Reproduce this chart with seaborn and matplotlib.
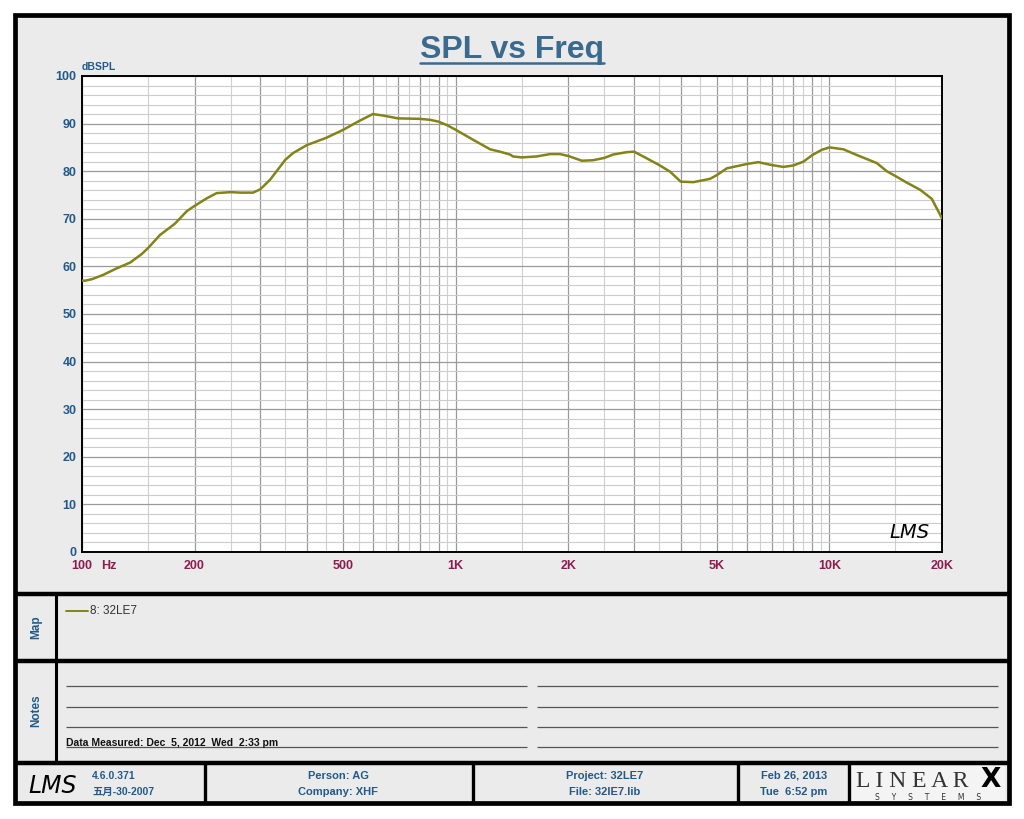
import numpy as np
import pandas as pd
import matplotlib
matplotlib.use("Agg")
import matplotlib.pyplot as plt
import seaborn as sns
from matplotlib.lines import Line2D
from matplotlib.patches import Rectangle
from matplotlib.ticker import FixedLocator, FixedFormatter, NullFormatter

# ---------------- data ----------------
freq_hz = [100, 101.9, 106.2, 113.8, 123.9, 134.5, 144.5, 150, 161.7, 177.4, 190.7,
           200, 215.6, 229.3, 250, 264.8, 286.9, 300, 318.5, 350, 366.9, 400, 450,
           500, 550, 600, 639, 700, 800, 853.6, 900, 946, 1000, 1113, 1236, 1314,
           1397, 1423, 1500, 1647, 1788, 1901, 2000, 2174, 2330, 2500, 2636, 2868,
           3000, 3244, 3500, 3745, 4000, 4323, 4793, 5000, 5312, 6000, 6451, 7000,
           7526, 8000, 8514, 9000, 9536, 10000, 10894, 11835, 13387, 14231, 15000,
           16098, 17477, 18778, 20000]
spl_db = [57.0, 57.0, 57.3, 58.2, 59.6, 60.8, 62.6, 63.8, 66.6, 69.0, 71.6,
          72.7, 74.3, 75.4, 75.6, 75.5, 75.5, 76.2, 78.2, 82.4, 83.8, 85.5, 87.0,
          88.7, 90.5, 92.0, 91.7, 91.1, 91.0, 90.8, 90.4, 89.7, 88.7, 86.6, 84.6, 84.1,
          83.5, 83.1, 82.9, 83.1, 83.6, 83.6, 83.2, 82.2, 82.3, 82.8, 83.5, 84.0,
          84.1, 82.7, 81.3, 79.9, 77.8, 77.7, 78.4, 79.2, 80.6, 81.5, 81.9, 81.3,
          80.9, 81.2, 82.0, 83.4, 84.5, 85.0, 84.6, 83.4, 81.7, 80.0, 79.0,
          77.6, 76.1, 74.2, 70.1]
series_name = "8: 32LE7"

x_label_ticks = [100, 200, 500, 1000, 2000, 5000, 10000, 20000]
x_label_text = ["100", "200", "500", "1K", "2K", "5K", "10K", "20K"]
x_major_grid = [100, 200, 300, 400, 500, 600, 700, 800, 900,
                1000, 2000, 3000, 4000, 5000, 6000, 7000, 8000, 9000, 10000, 20000]
x_minor_grid = [150, 250, 350, 450, 550, 650, 750, 850, 950,
                1500, 2500, 3500, 4500, 5500, 6500, 7500, 8500, 9500, 15000]
y_ticks = [0, 10, 20, 30, 40, 50, 60, 70, 80, 90, 100]
y_minor = [v for v in range(0, 101, 2) if v % 10]

df = pd.DataFrame({"Frequency": freq_hz, "SPL": spl_db, "Curve": series_name})

# ---------------- style ----------------
sns.set_style("white")
plt.rcParams["font.family"] = ["Liberation Sans", "Noto Sans CJK SC", "DejaVu Sans"]

W, H = 1024, 819
fig = plt.figure(figsize=(W / 100, H / 100), dpi=100)
fig.patch.set_facecolor("white")

def fx(x):
    return x / W

def fy(y):
    return 1 - y / H

BG = "#ebebeb"
BLUE = "#215a8a"
TITLE_BLUE = "#3a6b8e"
MAROON = "#8c1d4e"
CURVE = "#838318"

# panel background + outer frame
fig.add_artist(Rectangle((fx(14.5), fy(803)), fx(1008.5) - fx(14.5), fy(14.5) - fy(803),
                         transform=fig.transFigure, facecolor=BG, edgecolor="black",
                         linewidth=3.4, zorder=0))

def hline(y, x0, x1, lw=3.2, color="black", z=1):
    fig.add_artist(Line2D([fx(x0), fx(x1)], [fy(y), fy(y)], transform=fig.transFigure,
                          color=color, linewidth=lw, zorder=z, solid_capstyle="butt"))

def vline(x, y0, y1, lw=2.2, color="black", z=1):
    fig.add_artist(Line2D([fx(x), fx(x)], [fy(y0), fy(y1)], transform=fig.transFigure,
                          color=color, linewidth=lw, zorder=z, solid_capstyle="butt"))

hline(594, 14, 1009)
hline(660.5, 14, 1009)
hline(762.5, 14, 1009)
vline(56, 594, 762)
for xv in (205, 472.5, 738, 849):
    vline(xv, 762, 803, lw=2.4)

# notes lines
for yv in (686, 706.7, 726.7, 747.3):
    hline(yv, 66, 527, lw=0.9, color="#555555")
    hline(yv, 537, 998, lw=0.9, color="#555555")

# ---------------- axes ----------------
ax = fig.add_axes([fx(82), fy(552), fx(942) - fx(82), fy(76) - fy(552)])
ax.set_facecolor("white")
sns.lineplot(data=df, x="Frequency", y="SPL", ax=ax, color=CURVE, linewidth=1.8,
             legend=False, zorder=5)
ax.set_xscale("log")
ax.set_xlim(100, 20000)
ax.set_ylim(0, 100)

ax.xaxis.set_major_locator(FixedLocator(x_major_grid))
ax.xaxis.set_major_formatter(FixedFormatter(
    [x_label_text[x_label_ticks.index(v)] if v in x_label_ticks else "" for v in x_major_grid]))
ax.xaxis.set_minor_locator(FixedLocator(x_minor_grid))
ax.xaxis.set_minor_formatter(NullFormatter())
ax.yaxis.set_major_locator(FixedLocator(y_ticks))
ax.yaxis.set_minor_locator(FixedLocator(y_minor))

ax.grid(which="major", axis="x", color="#9a9a9a", linewidth=0.9)
ax.grid(which="minor", axis="x", color="#cfcfcf", linewidth=0.8)
ax.grid(which="major", axis="y", color="#9a9a9a", linewidth=0.9)
ax.grid(which="minor", axis="y", color="#cccccc", linewidth=0.8)
ax.set_axisbelow(True)

ax.tick_params(which="both", length=0)
ax.tick_params(axis="x", pad=6, labelsize=9, labelcolor=MAROON)
ax.tick_params(axis="y", pad=4, labelsize=9, labelcolor=BLUE)
for lab in ax.get_xticklabels() + ax.get_yticklabels():
    lab.set_fontweight("bold")
ax.set_xlabel("")
ax.set_ylabel("")
for sp in ax.spines.values():
    sp.set_color("black")
    sp.set_linewidth(1.4)
    sp.set_visible(True)

ax.annotate("Hz", xy=(100, 0), xycoords=("data", "axes fraction"),
            xytext=(19, -8.3), textcoords="offset pixels", ha="left", va="top",
            fontsize=9, fontweight="bold", color=MAROON)
ax.text(0.0, 1.008, "dBSPL", transform=ax.transAxes, ha="left", va="bottom",
        fontsize=7.5, fontweight="bold", color=BLUE)
ax.text(0.985, 0.02, "LMS", transform=ax.transAxes, ha="right", va="bottom",
        fontsize=14, fontstyle="italic", family=["DejaVu Sans"], fontweight="light",
        color="black")

# ---------------- title ----------------
title = fig.text(fx(512), fy(58), "SPL vs Freq", ha="center", va="baseline",
                 fontsize=23, fontweight="bold", color=TITLE_BLUE)
fig.canvas.draw()
bb = title.get_window_extent()
fig.add_artist(Line2D([bb.x0 / W, bb.x1 / W], [fy(62.5), fy(62.5)], transform=fig.transFigure,
                      color=TITLE_BLUE, linewidth=1.8))

# ---------------- map / notes ----------------
fig.text(fx(36), fy(627), "Map", rotation=90, ha="center", va="center",
         fontsize=8.5, fontweight="bold", color=BLUE)
fig.text(fx(36), fy(711), "Notes", rotation=90, ha="center", va="center",
         fontsize=8.5, fontweight="bold", color=BLUE)
fig.add_artist(Line2D([fx(66), fx(88)], [fy(611), fy(611)], transform=fig.transFigure,
                      color=CURVE, linewidth=1.4))
fig.text(fx(90), fy(611), series_name, ha="left", va="center", fontsize=8.5, color="#333333")
fig.text(fx(66), fy(745.5), "Data Measured: Dec  5, 2012  Wed  2:33 pm", ha="left",
         va="baseline", fontsize=7.5, fontweight="bold", color="#111111")

# ---------------- footer ----------------
fig.text(fx(53), fy(786), "LMS", ha="center", va="center", fontsize=17,
         fontstyle="italic", family=["DejaVu Sans"], fontweight="light", color="black")
fig.text(fx(92), fy(776), "4.6.0.371", ha="left", va="center", fontsize=7.5,
         fontweight="bold", color=BLUE)
fig.text(fx(92), fy(792), "五月-30-2007", ha="left", va="center", fontsize=7.5,
         fontweight="bold", color=BLUE)
fig.text(fx(338), fy(776), "Person: AG", ha="center", va="center", fontsize=8,
         fontweight="bold", color=BLUE)
fig.text(fx(338), fy(792), "Company: XHF", ha="center", va="center", fontsize=8,
         fontweight="bold", color=BLUE)
fig.text(fx(605), fy(776), "Project: 32LE7", ha="center", va="center", fontsize=8,
         fontweight="bold", color=BLUE)
fig.text(fx(605), fy(792), "File: 32IE7.lib", ha="center", va="center", fontsize=8,
         fontweight="bold", color=BLUE)
fig.text(fx(794), fy(776), "Feb 26, 2013", ha="center", va="center", fontsize=8,
         fontweight="bold", color=BLUE)
fig.text(fx(794), fy(792), "Tue  6:52 pm", ha="center", va="center", fontsize=8,
         fontweight="bold", color=BLUE)

fig.add_artist(Rectangle((fx(851), fy(801)), fx(1005) - fx(851), fy(765) - fy(801),
                         transform=fig.transFigure, facecolor="#f4f4f4",
                         edgecolor="none", zorder=0.5))
fig.text(fx(856), fy(787), "L I N E A R", ha="left", va="baseline", fontsize=17,
         family=["Liberation Serif"], color="#333333")
fig.text(fx(1001), fy(787), "X", ha="right", va="baseline", fontsize=19,
         family=["DejaVu Sans"], fontweight="heavy", color="black")
fig.text(fx(928), fy(797), "S     Y     S     T     E     M     S", ha="center",
         va="center", fontsize=5.5, family=["DejaVu Sans"], color="#333333")

fig.savefig("out.png", dpi=100, facecolor=fig.get_facecolor())
